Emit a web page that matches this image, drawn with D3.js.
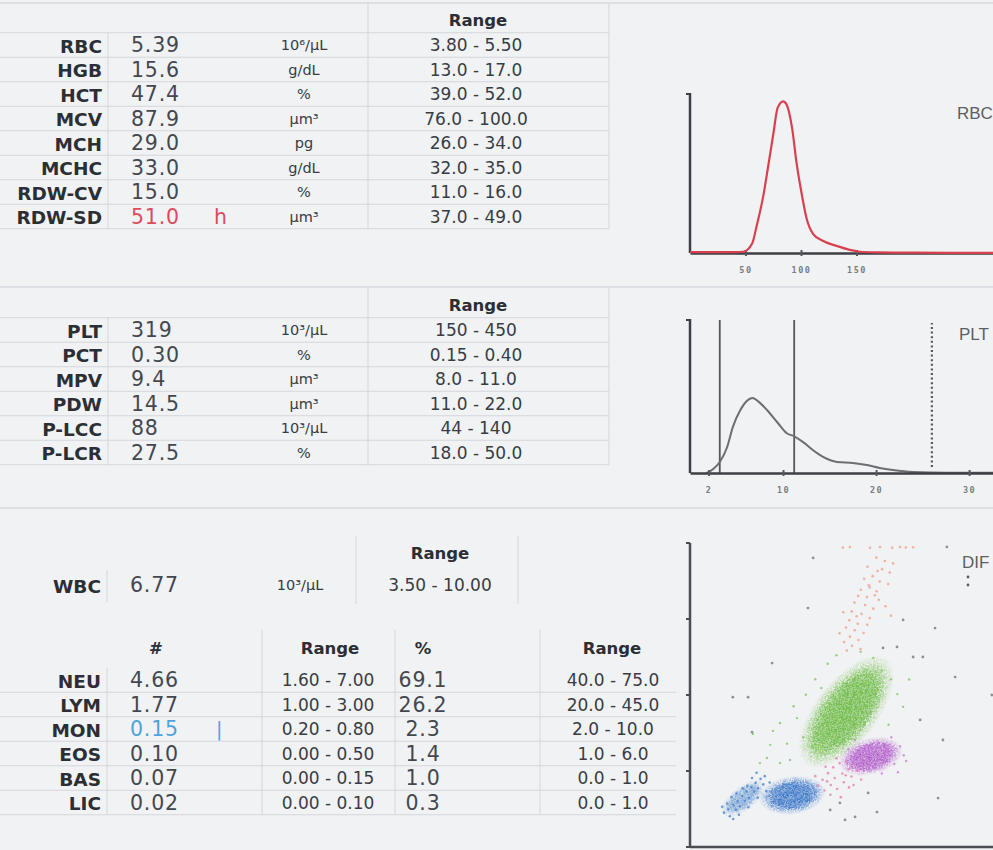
<!DOCTYPE html>
<html><head><meta charset="utf-8">
<script src="https://cdn.jsdelivr.net/npm/d3@7"></script>
<style>
html,body{margin:0;padding:0;background:#f1f2f4;}
svg{display:block;}
</style></head><body>
<svg id="c" width="993" height="850"></svg>
<script>
// ---------------- DATA ----------------
const rbcLabels = ["RBC","HGB","HCT","MCV","MCH","MCHC","RDW-CV","RDW-SD"];
const rbcValues = ["5.39","15.6","47.4","87.9","29.0","33.0","15.0","51.0"];
const rbcFlags  = ["","","","","","","","h"];
const rbcUnits  = ["10⁶/µL","g/dL","%","µm³","pg","g/dL","%","µm³"];
const rbcRanges = ["3.80 - 5.50","13.0 - 17.0","39.0 - 52.0","76.0 - 100.0","26.0 - 34.0","32.0 - 35.0","11.0 - 16.0","37.0 - 49.0"];

const pltLabels = ["PLT","PCT","MPV","PDW","P-LCC","P-LCR"];
const pltValues = ["319","0.30","9.4","14.5","88","27.5"];
const pltFlags  = ["","","","","",""];
const pltUnits  = ["10³/µL","%","µm³","µm³","10³/µL","%"];
const pltRanges = ["150 - 450","0.15 - 0.40","8.0 - 11.0","11.0 - 22.0","44 - 140","18.0 - 50.0"];

const wbcLabel = "WBC", wbcValue = "6.77", wbcUnit = "10³/µL", wbcRange = "3.50 - 10.00";

const diffHeaders  = ["#","Range","%","Range"];
const diffLabels   = ["NEU","LYM","MON","EOS","BAS","LIC"];
const diffAbs      = ["4.66","1.77","0.15","0.10","0.07","0.02"];
const diffAbsFlags = ["","","l","","",""];
const diffAbsRange = ["1.60 - 7.00","1.00 - 3.00","0.20 - 0.80","0.00 - 0.50","0.00 - 0.15","0.00 - 0.10"];
const diffPct      = ["69.1","26.2","2.3","1.4","1.0","0.3"];
const diffPctRange = ["40.0 - 75.0","20.0 - 45.0","2.0 - 10.0","1.0 - 6.0","0.0 - 1.0","0.0 - 1.0"];

// RBC histogram (fL vs relative count)
const rbcSize  = [0, 20, 40, 48, 56, 60, 66, 70, 75, 79, 84, 87, 92, 96, 101, 105, 111, 120, 132, 144, 153, 170, 200, 273];
const rbcCount = [0.5, 0.6, 0.6, 0.8, 6, 17, 36, 53, 75, 92, 96, 94, 79, 57, 36, 22, 12, 7.6, 4.5, 2, 0.8, 0.4, 0.2, 0.1];
const rbcTicks = [50, 100, 150];

// PLT histogram (fL vs relative count)
const pltSize  = [1.8, 2.5, 3.2, 4.0, 4.6, 5.4, 6.1, 6.7, 7.3, 8.3, 9.4, 10.4, 11.2, 12.2, 13.2, 14.3, 15.8, 17.5, 19.0, 20.4, 21.8, 24.0, 27.6, 33];
const pltCount = [0, 2.6, 7.2, 17, 30, 41, 47, 49, 47, 41, 33, 26, 24, 20, 15, 10.5, 7.2, 6.5, 5.2, 3.3, 2, 0.7, 0.2, 0.2];
const pltTicks = [2, 10, 20, 30];
const pltDiscriminators = [3.2, 11.2];
const pltUpperLimit = [26];

// DIFF scatter: dense populations (centre, spread, tilt in degrees)
const clusterNames  = ["BLAST","LYM","NEU","MON"];
const clusterX      = [17.5, 33.6, 51.4, 59.4];
const clusterY      = [16.0, 17.0, 44.5, 29.8];
const clusterMajor  = [8.0, 10.2, 20.5, 10.0];
const clusterMinor  = [3.6, 5.6, 9.2, 5.4];
const clusterTilt   = [38, 8, 52, 15];

// DIFF scatter: individually readable events
const eosX = [50.3,52.6,59.2,62.5,66.5,69.1,71.0,73.4,61.3,64.1,66.8,58.4,63.2,65.7,60.1,57.3,62.4,65.2,59.1,56.2,61.4,55.3,58.2,62.1,54.1,57.6,60.3,53.2,56.4,59.1,52.4,55.2,58.3,51.3,54.2,57.1,52.6,55.4,50.7,53.3,51.6,56.1,49.2,64.3,66.1,50.4,58.8,61.7,54.8,60.8];
const eosY = [98.5,98.7,98.4,98.7,98.4,98.7,98.5,98.6,95.2,94.1,93.3,92.2,91.4,90.3,89.1,88.2,87.3,86.5,85.4,84.6,84.1,82.6,82.2,81.3,80.4,79.6,78.4,77.5,76.7,75.3,74.6,73.4,73.1,72.2,71.3,70.4,69.2,68.1,67.4,66.2,64.6,65.1,70.3,79.2,76.1,77.2,86.1,90.8,75.9,82.8];

const blastX = [11.2,12.6,13.1,14.3,15.2,15.7,16.4,17.2,18.1,18.6,19.4,20.2,21.1,21.6,22.4,23.2,24.1,14.2,12.3,16.1,19.2,22.3,25.1,17.3,20.4,10.6,13.7,24.6,26.2,15.3,21.9,18.9];
const blastY = [11.3,12.4,10.1,13.8,12.2,15.1,13.4,16.8,15.2,18.3,16.1,19.7,18.2,21.1,19.3,22.4,20.6,9.2,14.3,10.6,13.1,16.2,18.4,19.3,22.7,13.2,16.4,23.3,21.2,17.6,24.4,20.1];

const licX = [42.1,43.6,44.2,45.4,46.3,47.1,47.6,48.4,49.2,50.1,50.6,51.4,52.2,53.1,54.2,44.6,48.2,55.1,46.2,52.3,41.2,56.3,49.6,45.1,51.2,53.8];
const licY = [20.2,22.1,18.6,24.3,20.4,26.2,22.7,19.1,27.6,24.2,21.3,28.1,25.6,23.2,27.3,26.4,29.2,25.1,17.2,19.6,23.3,22.2,16.4,21.6,23.6,20.4];

const neuSparseX = [20.7,27.3,29.6,31.9,25.3,35.2,29.6,23.0,32.9,38.1,41.2,45.3,63.2,66.1,68.2,70.1,60.3,48.2,56.1,43.2,37.3,40.2,72.1,65.3,34.1,26.4];
const neuSparseY = [37.2,38.2,40.8,34.0,29.3,42.4,27.6,27.6,28.6,50.1,55.2,60.3,58.1,55.2,50.3,46.1,62.2,63.1,64.2,52.3,36.1,33.2,55.1,40.2,46.3,33.6];

const monSparseX = [52.1,54.2,67.2,69.1,70.3,57.2,63.1,66.2,71.1,68.4];
const monSparseY = [32.1,35.2,27.3,33.1,30.2,25.1,24.2,36.1,28.3,24.6];

const ghostX = [40.5,38.8,84.5,80.6,87.2,99.3,83.2,81.6,14.1,19.1,27.0,20.4,46.1,51.0,54.3,61.5,49.3,58.6,75.7,73.4,76.6,68.1,70.1,63.5];
const ghostY = [95.1,78.6,98.7,72.0,55.9,50.0,35.2,16.1,49.3,49.3,60.5,37.8,12.2,8.9,9.9,11.5,14.5,17.8,41.8,62.5,62.5,65.8,74.7,65.5];
const diffTicks = [0, 25, 50, 75, 100];

// ---------------- DRAWING ----------------
const W = 993, H = 850;
const svg = d3.select("#c");
const sans = "'DejaVu Sans', Verdana, sans-serif";
const lineCol = "#d3d6db";
const labelFill = "#2b2f35", valueFill = "#434850", smallFill = "#383d44";
const redFill = "#dc4b5e", blueFill = "#4ea3dc";
const LBL = 18.5, VAL = 20.5, UNIT = 14.5, RNG = 17, HDR = 16.5;

svg.append("rect").attr("width", W).attr("height", H).attr("fill", "#f1f2f4");

svg.selectAll("line.sep").data([3, 287, 508]).join("line").attr("class","sep")
  .attr("x1", 0).attr("x2", W).attr("y1", d => d).attr("y2", d => d)
  .attr("stroke", "#dcdfe3").attr("stroke-width", 2);

function txt(g, x, y, s, size, fill, anchor, weight, spacing) {
  return g.append("text").attr("x", x).attr("y", y).text(s)
    .attr("font-family", sans).attr("font-size", size).attr("fill", fill)
    .attr("text-anchor", anchor || "start").attr("font-weight", weight || "normal")
    .attr("letter-spacing", spacing || 0)
    .attr("dominant-baseline", "central");
}

function simpleTable(labels, values, flags, units, ranges, y0, step, headerY) {
  const g = svg.append("g");
  const n = labels.length;
  const y = d3.scaleLinear().domain([0, n - 1]).range([y0, y0 + (n - 1) * step]);
  const bounds = d3.range(n + 1).map(i => y(i) - step / 2);
  g.selectAll("line.h").data(bounds).join("line")
    .attr("x1", 0).attr("x2", 609).attr("y1", d => d).attr("y2", d => d)
    .attr("stroke", lineCol).attr("stroke-width", 1.2);
  g.append("line").attr("x1", 108).attr("x2", 108).attr("y1", bounds[0]).attr("y2", bounds[n]).attr("stroke", lineCol);
  [368, 609].forEach(x => g.append("line").attr("x1", x).attr("x2", x)
    .attr("y1", headerY - 17).attr("y2", bounds[n]).attr("stroke", lineCol));
  txt(g, 478, headerY, "Range", HDR, labelFill, "middle", "bold");
  labels.forEach((d, i) => {
    txt(g, 102, y(i) + 1, d, LBL, labelFill, "end", "bold");
    txt(g, 131, y(i), values[i], VAL, flags[i] ? redFill : valueFill, "start", "normal", 0.8);
    if (flags[i]) txt(g, 214, y(i), flags[i], VAL, redFill);
    txt(g, 304, y(i), units[i], UNIT, smallFill, "middle");
    txt(g, 476, y(i), ranges[i], RNG, smallFill, "middle");
  });
}

simpleTable(rbcLabels, rbcValues, rbcFlags, rbcUnits, rbcRanges, 45, 24.5, 20);
simpleTable(pltLabels, pltValues, pltFlags, pltUnits, pltRanges, 330, 24.5, 305);

// WBC block
{
  const g = svg.append("g");
  g.append("line").attr("x1", 107).attr("x2", 107).attr("y1", 570).attr("y2", 602).attr("stroke", lineCol);
  [356, 518].forEach(x => g.append("line").attr("x1", x).attr("x2", x).attr("y1", 536).attr("y2", 604).attr("stroke", lineCol));
  txt(g, 440, 553, "Range", HDR, labelFill, "middle", "bold");
  txt(g, 101, 586, wbcLabel, LBL, labelFill, "end", "bold");
  txt(g, 130, 585, wbcValue, VAL, valueFill, "start", "normal", 0.8);
  txt(g, 300, 585, wbcUnit, UNIT, smallFill, "middle");
  txt(g, 440, 585, wbcRange, RNG, smallFill, "middle");
}

// Differential table
{
  const g = svg.append("g");
  const n = diffLabels.length;
  const y = d3.scaleLinear().domain([0, n - 1]).range([680, 680 + (n - 1) * 24.5]);
  const bounds = d3.range(n + 1).map(i => y(i) - 12.25);
  g.selectAll("line.h").data(bounds.slice(1)).join("line")
    .attr("x1", 0).attr("x2", 676).attr("y1", d => d).attr("y2", d => d)
    .attr("stroke", lineCol).attr("stroke-width", 1.2);
  g.append("line").attr("x1", 107).attr("x2", 107).attr("y1", bounds[0]).attr("y2", bounds[n]).attr("stroke", lineCol);
  [262, 395, 540].forEach(x => g.append("line").attr("x1", x).attr("x2", x)
    .attr("y1", 630).attr("y2", bounds[n]).attr("stroke", lineCol));
  const hx = [156, 330, 423, 612];
  diffHeaders.forEach((h, i) => txt(g, hx[i], 648, h, HDR, labelFill, "middle", "bold"));
  diffLabels.forEach((d, i) => {
    txt(g, 101, y(i) + 1, d, LBL, labelFill, "end", "bold");
    txt(g, 130, y(i), diffAbs[i], VAL, diffAbsFlags[i] ? blueFill : valueFill, "start", "normal", 0.8);
    if (diffAbsFlags[i]) txt(g, 216, y(i), "|", 19, blueFill);
    txt(g, 328, y(i), diffAbsRange[i], RNG, smallFill, "middle");
    txt(g, 423, y(i), diffPct[i], VAL, valueFill, "middle", "normal", 0.8);
    txt(g, 613, y(i), diffPctRange[i], RNG, smallFill, "middle");
  });
}

// ---------- RBC histogram ----------
{
  const g = svg.append("g");
  const x = d3.scaleLinear().domain([0, 273]).range([690, 993]);
  const y = d3.scaleLinear().domain([0, 100]).range([253, 95]);
  const ax = d3.axisBottom(x).tickValues(rbcTicks).tickSize(3).tickPadding(11).tickSizeOuter(0);
  const axg = g.append("g").attr("transform", `translate(0,${y(0)})`).call(ax);
  axg.select(".domain").attr("stroke", "#3c3f44").attr("stroke-width", 2.5);
  axg.selectAll(".tick line").attr("stroke", "#55585c").attr("stroke-width", 2).attr("y1", -3);
  axg.selectAll(".tick text").attr("font-family", "'DejaVu Sans Mono', monospace").attr("font-weight", "bold")
    .attr("font-size", 8.5).attr("fill", "#7a7d82").attr("letter-spacing", 1.5);
  g.append("line").attr("x1", x(0)).attr("x2", x(0)).attr("y1", y(0)).attr("y2", y(100) - 2)
    .attr("stroke", "#3c3f44").attr("stroke-width", 2.5);
  g.append("line").attr("x1", x(0) - 4).attr("x2", x(0)).attr("y1", y(100) - 1).attr("y2", y(100) - 1)
    .attr("stroke", "#3c3f44").attr("stroke-width", 2);
  const line = d3.line().x((d, i) => x(rbcSize[i])).y(d => y(d)).curve(d3.curveMonotoneX);
  g.append("path").attr("d", line(rbcCount)).attr("fill", "none").attr("stroke", "#d9404f").attr("stroke-width", 2.2);
  g.append("text").attr("x", 957).attr("y", 119).text("RBC").attr("font-family", "'Liberation Sans', Arial, sans-serif")
    .attr("font-size", 17).attr("fill", "#5b5f64");
}

// ---------- PLT histogram ----------
{
  const g = svg.append("g");
  const x = d3.scaleLinear().domain([0, 33]).range([690, 997]);
  const y = d3.scaleLinear().domain([0, 100]).range([473, 320]);
  g.selectAll("line.disc").data(pltDiscriminators).join("line")
    .attr("x1", d => x(d)).attr("x2", d => x(d)).attr("y1", y(0)).attr("y2", y(100))
    .attr("stroke", "#55585d").attr("stroke-width", 1.8);
  g.selectAll("line.ul").data(pltUpperLimit).join("line")
    .attr("x1", d => x(d)).attr("x2", d => x(d)).attr("y1", y(0) - 6).attr("y2", y(98))
    .attr("stroke", "#55585d").attr("stroke-width", 2.2).attr("stroke-dasharray", "2,2.6");
  const line = d3.line().x((d, i) => x(pltSize[i])).y(d => y(d)).curve(d3.curveMonotoneX);
  g.append("path").attr("d", line(pltCount)).attr("fill", "none").attr("stroke", "#6b6e73").attr("stroke-width", 2);
  const ax = d3.axisBottom(x).tickValues(pltTicks).tickSize(3).tickPadding(11).tickSizeOuter(0);
  const axg = g.append("g").attr("transform", `translate(0,${y(0)})`).call(ax);
  axg.select(".domain").attr("stroke", "#3c3f44").attr("stroke-width", 2.5);
  axg.selectAll(".tick line").attr("stroke", "#55585c").attr("stroke-width", 2).attr("y1", -3);
  axg.selectAll(".tick text").attr("font-family", "'DejaVu Sans Mono', monospace").attr("font-weight", "bold")
    .attr("font-size", 8.5).attr("fill", "#7a7d82").attr("letter-spacing", 1.5);
  g.append("line").attr("x1", x(0)).attr("x2", x(0)).attr("y1", y(0)).attr("y2", y(100) - 1)
    .attr("stroke", "#3c3f44").attr("stroke-width", 2.5);
  g.append("line").attr("x1", x(0) - 4).attr("x2", x(0)).attr("y1", y(100)).attr("y2", y(100))
    .attr("stroke", "#3c3f44").attr("stroke-width", 2);
  g.append("text").attr("x", 959).attr("y", 340).text("PLT").attr("font-family", "'Liberation Sans', Arial, sans-serif")
    .attr("font-size", 17).attr("fill", "#5b5f64");
}

// ---------- DIFF scatter ----------
{
  const g = svg.append("g");
  const x = d3.scaleLinear().domain([0, 100]).range([690, 994]);
  const y = d3.scaleLinear().domain([0, 100]).range([847, 543]);
  const defs = svg.append("defs");
  const clusterColors = ["#4a84cc", "#3b77c8", "#6cbb43", "#b25bcb"];
  const clusterCore = [0.55, 1, 1, 1];
  clusterColors.forEach((c, i) => {
    const gr = defs.append("radialGradient").attr("id", "cg" + i);
    gr.append("stop").attr("offset", "0%").attr("stop-color", c).attr("stop-opacity", clusterCore[i]);
    gr.append("stop").attr("offset", "65%").attr("stop-color", c).attr("stop-opacity", clusterCore[i] * 0.9);
    gr.append("stop").attr("offset", "100%").attr("stop-color", c).attr("stop-opacity", 0);
  });
  const f = defs.append("filter").attr("id", "speck").attr("x", "-20%").attr("y", "-20%").attr("width", "140%").attr("height", "140%");
  f.append("feTurbulence").attr("type", "fractalNoise").attr("baseFrequency", 1.1).attr("numOctaves", 1).attr("result", "n");
  f.append("feColorMatrix").attr("in", "n").attr("type", "matrix")
    .attr("values", "0 0 0 0 0  0 0 0 0 0  0 0 0 0 0  0 0 0 7 -2.9").attr("result", "m");
  f.append("feComposite").attr("in", "SourceGraphic").attr("in2", "m").attr("operator", "in");

  g.append("line").attr("x1", x(0)).attr("x2", x(0)).attr("y1", y(0)).attr("y2", y(100))
    .attr("stroke", "#4a4d52").attr("stroke-width", 2.5);
  g.append("line").attr("x1", x(0)).attr("x2", x(100)).attr("y1", y(0)).attr("y2", y(0))
    .attr("stroke", "#4a4d52").attr("stroke-width", 2.5);
  g.selectAll("line.yt").data(diffTicks).join("line")
    .attr("x1", x(0) - 4).attr("x2", x(0)).attr("y1", d => y(d)).attr("y2", d => y(d))
    .attr("stroke", "#4a4d52").attr("stroke-width", 2);

  const clusters = g.append("g");
  clusterNames.forEach((nm, i) => {
    const cx = x(clusterX[i]), cy = y(clusterY[i]);
    const rx = x(clusterMajor[i]) - x(0), ry = x(clusterMinor[i]) - x(0);
    clusters.append("ellipse").attr("cx", cx).attr("cy", cy).attr("rx", rx * 0.9).attr("ry", ry * 0.88)
      .attr("transform", `rotate(${-clusterTilt[i]},${cx},${cy})`).attr("fill", `url(#cg${i})`).attr("opacity", 0.5);
    clusters.append("ellipse").attr("cx", cx).attr("cy", cy).attr("rx", rx * 1.08).attr("ry", ry * 1.12)
      .attr("transform", `rotate(${-clusterTilt[i]},${cx},${cy})`).attr("fill", `url(#cg${i})`).attr("filter", "url(#speck)");
  });

  function dots(xs, ys, color, r, op) {
    g.append("g").selectAll("circle").data(xs).join("circle")
      .attr("cx", d => x(d)).attr("cy", (d, i) => y(ys[i])).attr("r", r)
      .attr("fill", color).attr("opacity", op);
  }
  dots(blastX, blastY, "#4a86cf", 1.3, 0.8);
  dots(neuSparseX, neuSparseY, "#79c257", 1.2, 0.75);
  dots(monSparseX, monSparseY, "#c07ad6", 1.2, 0.75);
  dots(licX, licY, "#e483ad", 1.3, 0.8);
  dots(eosX, eosY, "#ee9b84", 1.3, 0.75);
  dots(ghostX, ghostY, "#6d7076", 1.4, 0.75);

  g.append("text").attr("x", 962).attr("y", 568).text("DIF").attr("font-family", "'Liberation Sans', Arial, sans-serif")
    .attr("font-size", 17).attr("fill", "#5b5f64");
  g.selectAll("circle.colon").data([577, 585]).join("circle").attr("class", "colon")
    .attr("cx", 968).attr("cy", d => d).attr("r", 1.4).attr("fill", "#5b5f64");
}
</script>
</body></html>
